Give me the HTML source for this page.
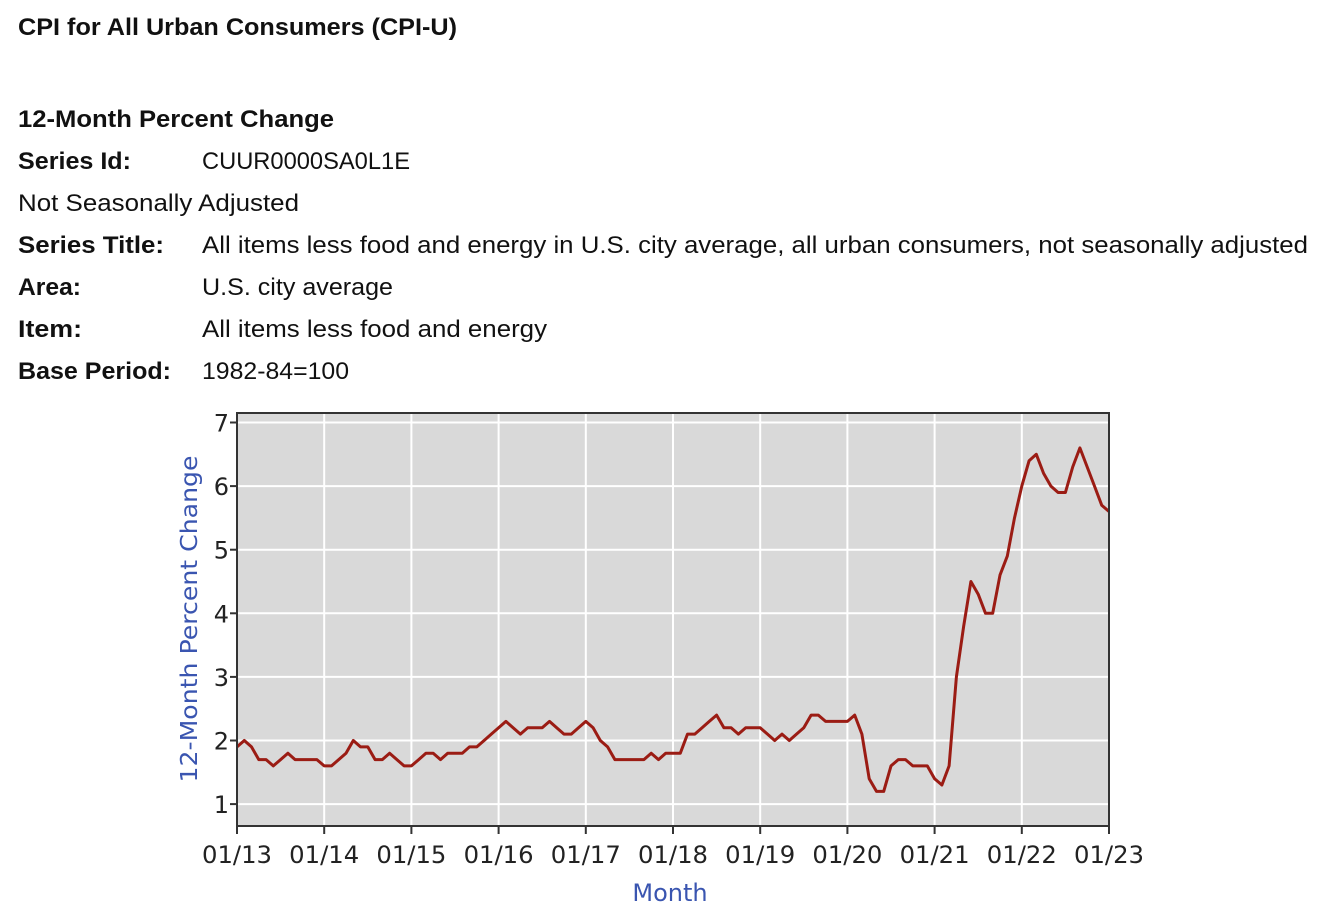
<!DOCTYPE html>
<html><head><meta charset="utf-8"><style>
html,body{margin:0;padding:0;background:#fff;}
svg{display:block;}
</style></head><body>
<svg id="s" width="1344" height="918" xmlns="http://www.w3.org/2000/svg" font-family="Liberation Sans, sans-serif">
<g font-size="24" fill="#111">
<text x="18" y="35" font-weight="bold" textLength="439" lengthAdjust="spacingAndGlyphs">CPI for All Urban Consumers (CPI-U)</text>
<text x="18" y="127" font-weight="bold" textLength="316" lengthAdjust="spacingAndGlyphs">12-Month Percent Change</text>
<text x="18" y="169" font-weight="bold" textLength="113" lengthAdjust="spacingAndGlyphs">Series Id:</text>
<text x="202" y="169" textLength="208" lengthAdjust="spacingAndGlyphs">CUUR0000SA0L1E</text>
<text x="18" y="211" textLength="281" lengthAdjust="spacingAndGlyphs">Not Seasonally Adjusted</text>
<text x="18" y="253" font-weight="bold" textLength="146" lengthAdjust="spacingAndGlyphs">Series Title:</text>
<text x="202" y="253" textLength="1106" lengthAdjust="spacingAndGlyphs">All items less food and energy in U.S. city average, all urban consumers, not seasonally adjusted</text>
<text x="18" y="295" font-weight="bold" textLength="63" lengthAdjust="spacingAndGlyphs">Area:</text>
<text x="202" y="295" textLength="191" lengthAdjust="spacingAndGlyphs">U.S. city average</text>
<text x="18" y="337" font-weight="bold" textLength="64" lengthAdjust="spacingAndGlyphs">Item:</text>
<text x="202" y="337" textLength="345" lengthAdjust="spacingAndGlyphs">All items less food and energy</text>
<text x="18" y="379" font-weight="bold" textLength="153" lengthAdjust="spacingAndGlyphs">Base Period:</text>
<text x="202" y="379" textLength="147" lengthAdjust="spacingAndGlyphs">1982-84=100</text>
</g>
<rect x="237" y="413" width="872" height="413" fill="#d9d9d9"/>
<g id="grid" stroke="#fff" stroke-width="2"></g>
<polyline id="line" fill="none" stroke="#9b1c14" stroke-width="3" stroke-linejoin="round"/>
<rect x="237" y="413" width="872" height="413" fill="none" stroke="#333" stroke-width="2"/>
<g id="ticks" stroke="#333" stroke-width="2"></g>
<g id="labels" font-family="DejaVu Sans, sans-serif" font-size="24" fill="#222"></g>
<text x="670" y="901" text-anchor="middle" font-family="DejaVu Sans, sans-serif" font-size="24" fill="#3a55b0">Month</text>
<text transform="translate(197,619) rotate(-90)" text-anchor="middle" font-family="DejaVu Sans, sans-serif" font-size="23" fill="#3a55b0" textLength="327" lengthAdjust="spacingAndGlyphs">12-Month Percent Change</text>
</svg>
<script>
var d=[1.9,2.0,1.9,1.7,1.7,1.6,1.7,1.8,1.7,1.7,1.7,1.7,
1.6,1.6,1.7,1.8,2.0,1.9,1.9,1.7,1.7,1.8,1.7,1.6,
1.6,1.7,1.8,1.8,1.7,1.8,1.8,1.8,1.9,1.9,2.0,2.1,
2.2,2.3,2.2,2.1,2.2,2.2,2.2,2.3,2.2,2.1,2.1,2.2,
2.3,2.2,2.0,1.9,1.7,1.7,1.7,1.7,1.7,1.8,1.7,1.8,
1.8,1.8,2.1,2.1,2.2,2.3,2.4,2.2,2.2,2.1,2.2,2.2,
2.2,2.1,2.0,2.1,2.0,2.1,2.2,2.4,2.4,2.3,2.3,2.3,
2.3,2.4,2.1,1.4,1.2,1.2,1.6,1.7,1.7,1.6,1.6,1.6,
1.4,1.3,1.6,3.0,3.8,4.5,4.3,4.0,4.0,4.6,4.9,5.5,
6.0,6.4,6.5,6.2,6.0,5.9,5.9,6.3,6.6,6.3,6.0,5.7,5.6];
var X=function(i){return 237+i*872/120;},Y=function(v){return 740.5-(v-2)*63.6;};
var NS="http://www.w3.org/2000/svg";
function el(p,t,a,txt){var e=document.createElementNS(NS,t);for(var k in a)e.setAttribute(k,a[k]);if(txt)e.textContent=txt;document.getElementById(p).appendChild(e);}
for(var v=1;v<=7;v++){var y=Y(v);el("grid","line",{x1:237,x2:1109,y1:y,y2:y});el("ticks","line",{x1:230,x2:237,y1:y,y2:y});el("labels","text",{x:229,y:y+9,"text-anchor":"end"},""+v);}
for(var k=0;k<=10;k++){var x=X(k*12);if(k>0&&k<10)el("grid","line",{x1:x,x2:x,y1:413,y2:826});el("ticks","line",{x1:x,x2:x,y1:826,y2:834});el("labels","text",{x:x-35,y:863,textLength:70,lengthAdjust:"spacingAndGlyphs"},"01/"+(13+k));}
document.getElementById("line").setAttribute("points",d.map(function(v,i){return X(i).toFixed(1)+","+Y(v).toFixed(1);}).join(" "));
</script>
</body></html>
